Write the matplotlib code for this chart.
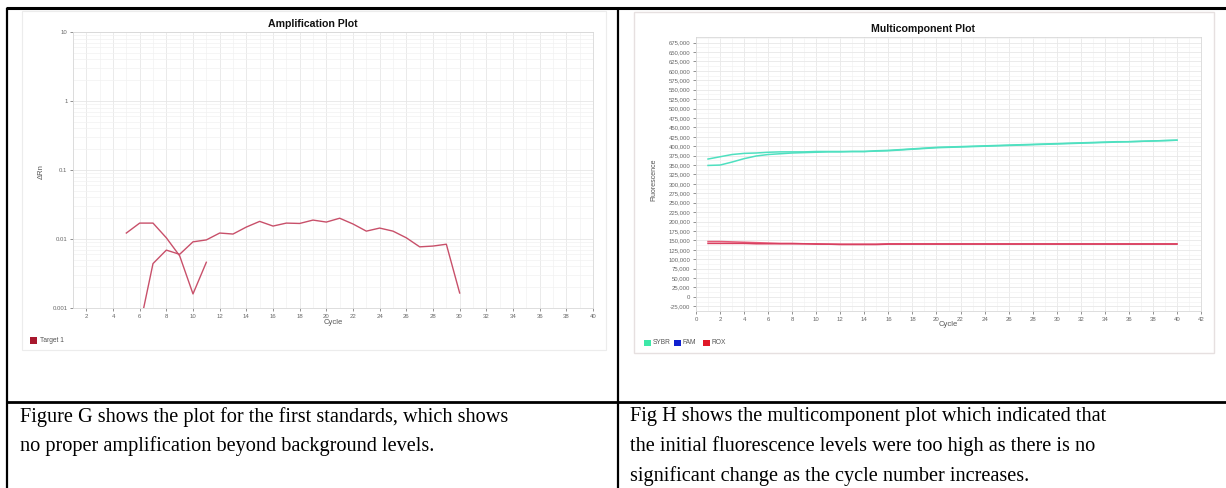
import matplotlib
matplotlib.use("Agg")
import matplotlib.pyplot as plt
from matplotlib.lines import Line2D
from matplotlib.patches import Rectangle
from matplotlib.ticker import FuncFormatter, MultipleLocator, LogLocator, NullFormatter

# ---------------- data ----------------
# Amplification plot (Target 1), delta Rn per cycle
amp1_cycles = [5, 6, 7, 8, 9, 10, 11]
amp1_values = [0.0122, 0.017, 0.017, 0.0104, 0.0057, 0.0016, 0.0046]

amp2_cycles = [6, 7, 8, 9, 10, 11, 12, 13, 14, 15, 16, 17, 18, 19, 20, 21, 22,
               23, 24, 25, 26, 27, 28, 29, 30]
amp2_values = [0.00053, 0.0044, 0.0069, 0.0060, 0.0091, 0.0097, 0.0122, 0.0118,
               0.0149, 0.0180, 0.0154, 0.0170, 0.0168, 0.0188, 0.0176, 0.0200,
               0.0165, 0.0130, 0.0144, 0.0130, 0.0104, 0.0077, 0.0079, 0.0084,
               0.00165]

amp_yticks = [0.001, 0.01, 0.1, 1, 10]
amp_yticklabels = ["0.001", "0.01", "0.1", "1", "10"]

# Multicomponent plot, fluorescence per cycle
mc_cycles = list(range(1, 41))
sybr_a = [366000, 372000, 378000, 381000, 382000, 384000, 385000, 385000, 385000, 386000,
          386000, 386000, 386000, 386000, 388000, 389000, 391000, 393000, 395000, 397000,
          398000, 399000, 400000, 401000, 402000, 403000, 404000, 405000, 406000, 407000,
          408000, 409000, 410000, 411000, 412000, 412000, 413000, 414000, 415000, 416000]
sybr_b = [349000, 350000, 358000, 367000, 374000, 378000, 380000, 382000, 383000, 384000,
          385000, 385000, 386000, 386000, 387000, 388000, 390000, 392000, 394000, 396000,
          397000, 398000, 399000, 400000, 401000, 402000, 403000, 404000, 405000, 406000,
          407000, 408000, 409000, 410000, 411000, 412000, 413000, 414000, 415000, 416000]
rox_a = [147000, 147000, 146000, 145000, 144000, 143000, 142000, 142000, 141000, 141000,
         140000, 140000, 140000, 140000, 140000, 141000, 141000, 141000, 141000, 141000,
         141000, 141000, 141000, 141000, 141000, 141000, 141000, 141000, 141000, 141000,
         141000, 141000, 141000, 141000, 141000, 141000, 141000, 141000, 141000, 141000]
rox_b = [142000, 142000, 142000, 142000, 141000, 141000, 141000, 141000, 141000, 140000,
         140000, 139000, 139000, 139000, 139000, 140000, 140000, 140000, 140000, 140000,
         140000, 140000, 140000, 140000, 140000, 140000, 140000, 140000, 140000, 140000,
         140000, 140000, 140000, 140000, 140000, 140000, 140000, 140000, 140000, 140000]

mc_legend = ["SYBR", "FAM", "ROX"]
mc_legend_colors = ["#3de8a8", "#1020d0", "#e01828"]

caption_left = ["Figure G shows the plot for the first standards, which shows",
                "no proper amplification beyond background levels."]
caption_right = ["Fig H shows the multicomponent plot which indicated that",
                 "the initial fluorescence levels were too high as there is no",
                 "significant change as the cycle number increases."]

# ---------------- figure ----------------
W, H = 1226, 488
fig = plt.figure(figsize=(W / 100, H / 100), dpi=100)
plt.rcParams['font.family'] = ['Liberation Sans', 'DejaVu Sans']


def fx(x):
    return x / W


def fy(y):
    return 1 - y / H


def axes_rect(l, t, r, b):
    return [fx(l), fy(b), (r - l) / W, (b - t) / H]


def fig_line(x0, y0, x1, y1, lw=2.0, color="black"):
    fig.add_artist(Line2D([fx(x0), fx(x1)], [fy(y0), fy(y1)], transform=fig.transFigure,
                          color=color, lw=lw, solid_capstyle="butt", zorder=5))


# panels (behind axes)
fig.add_artist(Rectangle((fx(22), fy(350)), (606 - 22) / W, (350 - 11) / H,
                         transform=fig.transFigure, facecolor="white",
                         edgecolor="#ececec", lw=0.8, zorder=-10))
fig.add_artist(Rectangle((fx(634), fy(353)), (1214 - 634) / W, (353 - 12) / H,
                         transform=fig.transFigure, facecolor="white",
                         edgecolor="#e6e0e0", lw=1.0, zorder=-10))

tick_kw = dict(labelsize=4.3, colors="#666666", length=2, width=0.5, pad=2)

# ---- Amplification plot ----
ax1 = fig.add_axes(axes_rect(73, 32, 593, 308))
ax1.set_yscale("log")
ax1.set_xlim(1, 40)
ax1.set_ylim(0.001, 10)
line_col = "#c8506a"
ax1.plot(amp1_cycles, amp1_values, color=line_col, lw=1.0)
ax1.plot(amp2_cycles, amp2_values, color=line_col, lw=1.0)
ax1.set_yticks(amp_yticks)
ax1.set_yticklabels(amp_yticklabels)
ax1.yaxis.set_minor_locator(LogLocator(base=10, subs=range(2, 10)))
ax1.yaxis.set_minor_formatter(NullFormatter())
ax1.xaxis.set_major_locator(MultipleLocator(2))
ax1.xaxis.set_minor_locator(MultipleLocator(1))
ax1.tick_params(axis="both", which="major", **tick_kw)
ax1.tick_params(axis="both", which="minor", length=0)
ax1.grid(True, which="major", color="#e6e6e6", lw=0.6)
ax1.grid(True, which="minor", color="#f2f2f2", lw=0.5)
for s in ax1.spines.values():
    s.set_color("#d8d8d8")
    s.set_linewidth(0.6)
ax1.set_axisbelow(True)
fig.text(fx(313), fy(24), "Amplification Plot", ha="center", va="center",
         fontsize=7.6, fontweight="bold", color="#111111")
fig.text(fx(333), fy(323), "Cycle", ha="center", va="center", fontsize=5.5, color="#555555")
fig.text(fx(41), fy(172), "\u0394Rn", ha="center", va="center", fontsize=5.5,
         color="#555555", rotation=90)
fig.add_artist(Rectangle((fx(30), fy(344)), 7 / W, 7 / H, transform=fig.transFigure,
                         facecolor="#a8182e", edgecolor="none"))
fig.text(fx(40), fy(340.5), "Target 1", ha="left", va="center", fontsize=4.8, color="#555555")

# ---- Multicomponent plot ----
ax2 = fig.add_axes(axes_rect(696, 37, 1201, 311))
ax2.set_xlim(0, 42)
ax2.set_ylim(-37500, 690000)
sybr_col = "#4fe0c0"
rox_col = "#e65a78"
ax2.plot(mc_cycles, sybr_a, color=sybr_col, lw=1.1)
ax2.plot(mc_cycles, sybr_b, color=sybr_col, lw=1.1)
ax2.plot(mc_cycles, rox_a, color=rox_col, lw=1.1)
ax2.plot(mc_cycles, rox_b, color="#d84060", lw=1.1)
ax2.yaxis.set_major_locator(MultipleLocator(25000))
ax2.yaxis.set_minor_locator(MultipleLocator(12500))
ax2.yaxis.set_major_formatter(FuncFormatter(lambda v, p: "{:,.0f}".format(v)))
ax2.xaxis.set_major_locator(MultipleLocator(2))
ax2.xaxis.set_minor_locator(MultipleLocator(1))
ax2.tick_params(axis="both", which="major", **tick_kw)
ax2.tick_params(axis="both", which="minor", length=0)
ax2.grid(True, which="major", color="#e8e8e8", lw=0.6)
ax2.grid(True, which="minor", color="#f3f3f3", lw=0.5)
for s in ax2.spines.values():
    s.set_color("#d8d8d8")
    s.set_linewidth(0.6)
ax2.set_axisbelow(True)
fig.text(fx(923), fy(29), "Multicomponent Plot", ha="center", va="center",
         fontsize=7.6, fontweight="bold", color="#111111")
fig.text(fx(948), fy(325), "Cycle", ha="center", va="center", fontsize=5.5, color="#555555")
fig.text(fx(654), fy(180), "Fluorescence", ha="center", va="center", fontsize=5.0,
         color="#555555", rotation=90)
leg_x = [644, 674, 703]
for lx, lab, col in zip(leg_x, mc_legend, mc_legend_colors):
    fig.add_artist(Rectangle((fx(lx), fy(346)), 6.5 / W, 6.5 / H, transform=fig.transFigure,
                             facecolor=col, edgecolor="none"))
    fig.text(fx(lx + 8.5), fy(342.5), lab, ha="left", va="center", fontsize=4.8,
             color="#555555")

# ---- table borders ----
fig_line(6, 8, W, 8, lw=2.2)
fig_line(7, 8, 7, H, lw=1.6)
fig_line(618, 8, 618, H, lw=1.6)
fig_line(6, 402, W, 402, lw=2.0)

# ---- captions ----
cap_kw = dict(ha="left", va="center", fontsize=14.6, color="black",
              family=["Liberation Serif", "DejaVu Serif"])
for i, t in enumerate(caption_left):
    fig.text(fx(20), fy(417 + 29.5 * i), t, **cap_kw)
for i, t in enumerate(caption_right):
    fig.text(fx(630), fy(417 + 29.5 * i), t, **cap_kw)

fig.savefig("out.png", dpi=100)
